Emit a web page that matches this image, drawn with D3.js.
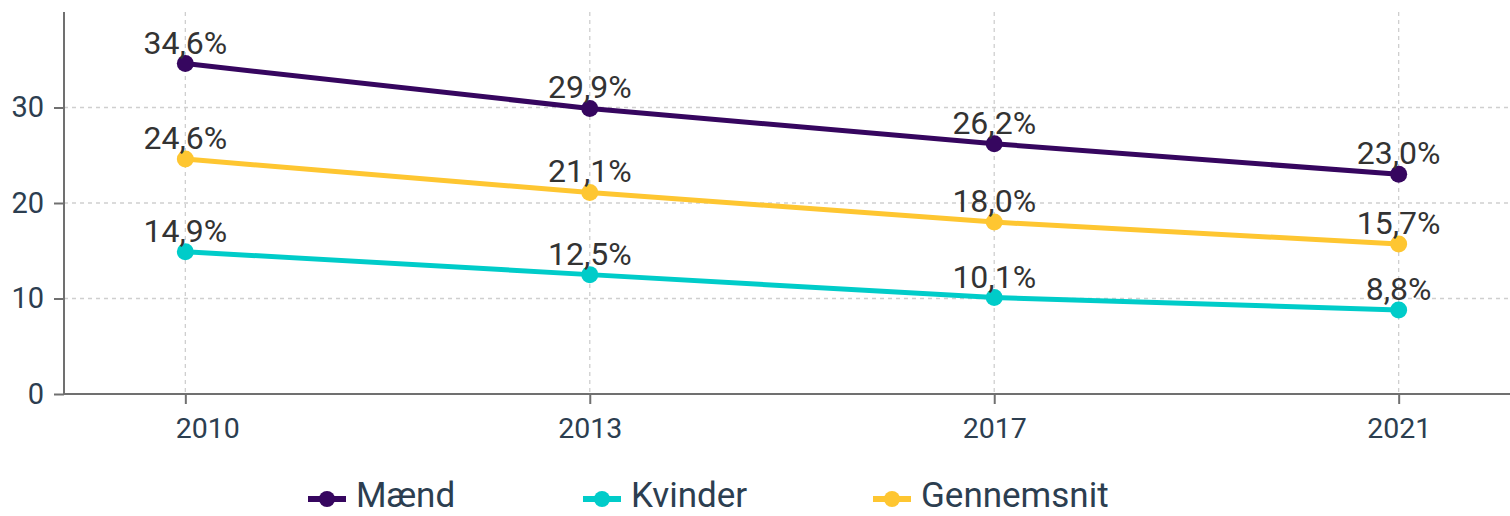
<!DOCTYPE html>
<html>
<head>
<meta charset="utf-8">
<script src="https://cdn.jsdelivr.net/npm/d3@7"></script>
<style>
  html, body { margin: 0; padding: 0; background: #fff; }
  svg { display: block; }
</style>
</head>
<body>
<svg id="chart" width="1510" height="516"></svg>
<script>
const years = ["2010", "2013", "2017", "2021"];
const maend = [34.6, 29.9, 26.2, 23.0];
const kvinder = [14.9, 12.5, 10.1, 8.8];
const gennemsnit = [24.6, 21.1, 18.0, 15.7];
const seriesNames = ["Mænd", "Kvinder", "Gennemsnit"];
const seriesColors = ["#36065f", "#00ccc9", "#fec631"];
const yTicks = [0, 10, 20, 30];

(function () {
const series = [maend, kvinder, gennemsnit].map((vals, i) => ({
  name: seriesNames[i], color: seriesColors[i], values: vals
}));

const svg = d3.select("#chart");
const mLeft = 64, mRight = 1520, mTop = 12, mBottom = 394;

const x = d3.scalePoint().domain(years).range([mLeft, mRight]).padding(0.3);
const y = d3.scaleLinear().domain([0, 40]).range([mBottom, mTop]);

// grid
const grid = svg.append("g");
grid.selectAll("line.h").data(yTicks.filter(d => d > 0)).join("line").attr("class", "h")
  .attr("x1", mLeft).attr("x2", 1510)
  .attr("y1", d => y(d)).attr("y2", d => y(d))
  .attr("stroke", "#cfcfcf").attr("stroke-width", 1.3).attr("stroke-dasharray", "4,4");
grid.selectAll("line.v").data(years).join("line").attr("class", "v")
  .attr("x1", d => x(d)).attr("x2", d => x(d))
  .attr("y1", mTop).attr("y2", mBottom)
  .attr("stroke", "#cfcfcf").attr("stroke-width", 1.3).attr("stroke-dasharray", "4,4");

// y axis
const yAxis = svg.append("g").attr("transform", `translate(${mLeft},0)`)
  .call(d3.axisLeft(y).tickValues(yTicks).tickSize(10).tickPadding(10));
yAxis.select(".domain").attr("d", `M0,${mTop}V${mBottom}`);
yAxis.selectAll(".domain, .tick line").attr("stroke", "#707070").attr("stroke-width", 2);
yAxis.selectAll("text").attr("font-family", "Roboto").attr("font-size", 29).attr("fill", "#2c3e50");

// x axis
const xAxis = svg.append("g").attr("transform", `translate(0,${mBottom})`)
  .call(d3.axisBottom(x).tickSize(10).tickPadding(14));
xAxis.select(".domain").attr("d", `M${mLeft},0H1510`);
xAxis.selectAll(".domain, .tick line").attr("stroke", "#707070").attr("stroke-width", 2);
xAxis.selectAll("text").attr("font-family", "Roboto").attr("font-size", 28.5).attr("fill", "#2c3e50")
  .attr("dx", (d, i) => i === 0 ? 22 : 0);

// lines
const line = d3.line().x((d, i) => x(years[i])).y(d => y(d));
series.forEach(s => {
  const g = svg.append("g");
  g.append("path").attr("d", line(s.values)).attr("fill", "none")
    .attr("stroke", s.color).attr("stroke-width", 5);
  g.selectAll("circle").data(s.values).join("circle")
    .attr("cx", (d, i) => x(years[i])).attr("cy", d => y(d)).attr("r", 8.5)
    .attr("fill", s.color);
  g.selectAll("text").data(s.values).join("text")
    .attr("x", (d, i) => x(years[i])).attr("y", d => y(d) - 10)
    .attr("text-anchor", "middle")
    .attr("font-family", "Roboto").attr("font-size", 32).attr("fill", "#333")
    .text(d => d.toFixed(1).replace(".", ",") + "%");
});

// legend
const legendX = [327, 602, 892];
const legend = svg.append("g");
series.forEach((s, i) => {
  const g = legend.append("g").attr("transform", `translate(${legendX[i]},499)`);
  g.append("line").attr("x1", -19).attr("x2", 19).attr("y1", 0).attr("y2", 0)
    .attr("stroke", s.color).attr("stroke-width", 6);
  g.append("circle").attr("r", 8).attr("fill", s.color);
  g.append("text").attr("x", 29).attr("y", 8)
    .attr("font-family", "Roboto").attr("font-size", 35).attr("fill", "#2c3e50")
    .text(s.name);
});
})();
</script>
</body>
</html>
